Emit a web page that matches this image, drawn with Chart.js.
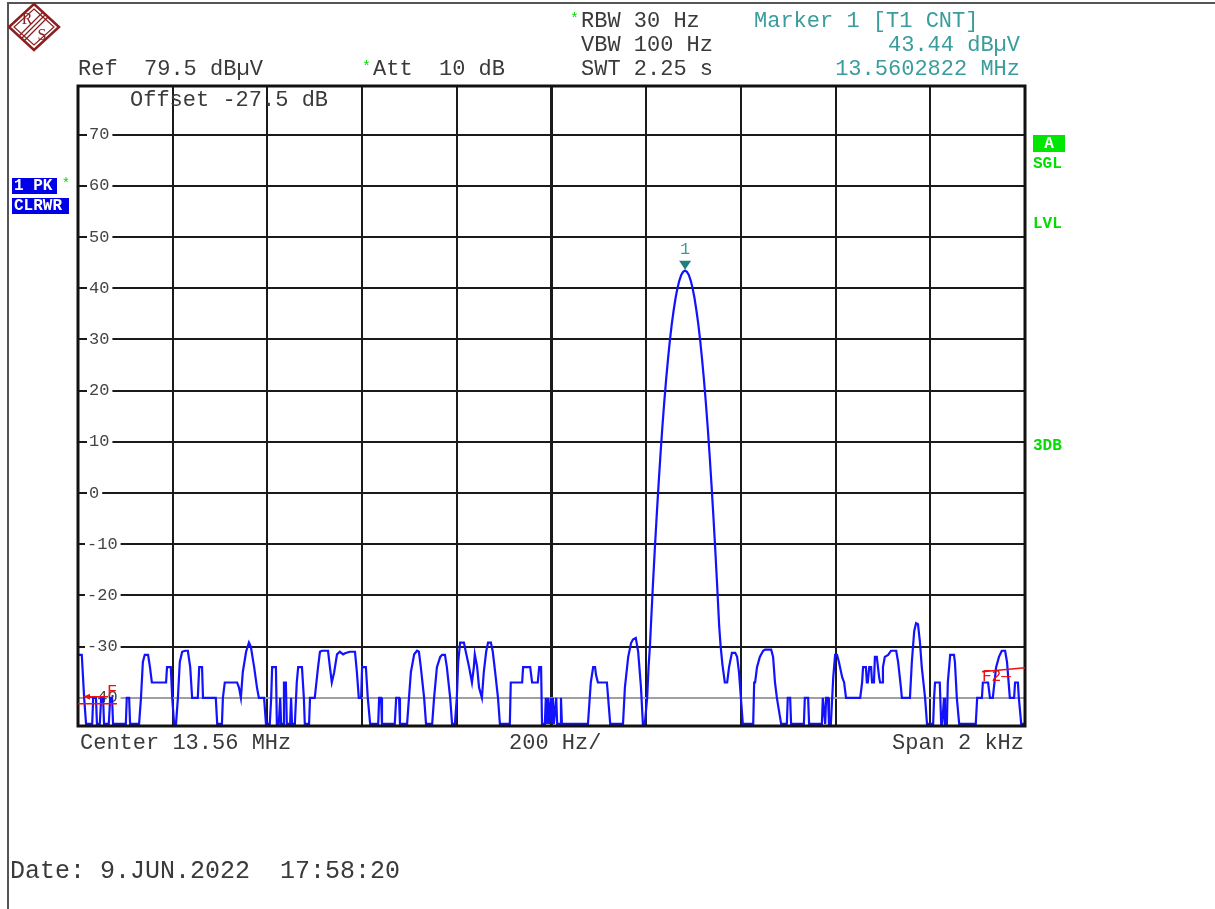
<!DOCTYPE html>
<html lang="en">
<head>
<meta charset="UTF-8">
<title>Spectrum 13.56 MHz</title>
<style>
  body { margin: 0; background: #fff; }
  #wrap { width: 1215px; height: 909px; }
</style>
<script src="https://cdn.jsdelivr.net/npm/chart.js"></script>
</head>
<body>
<div id="wrap"><canvas id="spec" width="1215" height="909"></canvas></div>
<script>
// trace: offset from 13.56 MHz centre (Hz) / level (dBuV)
const freqHz = [
  -1000, -992, -987, -983, -970, -968, -962, -960, -954, -951, -947, -945, -935, -932, -928, -926,
  -899, -897, -892, -890, -871, -867, -863, -859, -852, -848, -844, -814, -812, -804, -801, -797,
  -793, -789, -785, -780, -774, -768, -763, -759, -747, -744, -738, -736, -709, -706, -696, -694,
  -690, -664, -660, -656, -652, -645, -639, -635, -628, -622, -618, -607, -603, -595, -592, -590,
  -582, -580, -576, -573, -571, -567, -565, -561, -559, -552, -550, -548, -542, -538, -535, -527,
  -523, -521, -512, -510, -500, -493, -489, -485, -472, -468, -464, -459, -453, -447, -440, -436,
  -426, -415, -411, -407, -402, -400, -392, -388, -383, -366, -364, -360, -358, -331, -328, -322,
  -320, -305, -301, -297, -290, -284, -280, -276, -269, -265, -252, -248, -242, -235, -231, -225,
  -221, -214, -210, -204, -200, -197, -193, -185, -181, -174, -168, -164, -162, -157, -153, -147,
  -143, -138, -134, -128, -124, -119, -113, -109, -88, -86, -62, -60, -45, -41, -29, -26,
  -22, -20, -14, -12, -10, -7, -5, -1, 1, 3, 5, 10, 12, 18, 20, 22,
  77, 83, 88, 92, 94, 98, 117, 124, 151, 155, 162, 168, 172, 178, 183, 189,
  193, 197, 202, 205, 208, 210, 214, 218, 222, 226, 230, 234, 238, 242, 246, 250,
  254, 258, 262, 266, 270, 274, 278, 282, 286, 290, 294, 298, 302, 306, 310, 314,
  318, 322, 326, 330, 334, 338, 342, 346, 350, 354, 357, 361, 366, 371, 375, 381,
  388, 392, 396, 400, 404, 426, 428, 430, 434, 440, 447, 451, 464, 468, 472, 476,
  485, 497, 499, 504, 506, 533, 535, 542, 544, 571, 573, 578, 580, 584, 586, 590,
  595, 599, 603, 607, 614, 618, 622, 652, 656, 658, 664, 666, 668, 671, 675, 677,
  681, 683, 687, 692, 694, 698, 700, 704, 711, 717, 728, 732, 738, 740, 757, 761,
  766, 770, 774, 778, 782, 789, 793, 806, 808, 810, 820, 823, 825, 829, 831, 835,
  837, 842, 850, 852, 856, 861, 896, 899, 909, 911, 922, 926, 932, 939, 945, 951,
  958, 962, 968, 977, 979, 985, 987, 992, 1000
];
const levelDb = [
  -31.6, -31.6, -40, -45.1, -45.1, -40, -40, -45.1, -45.1, -40, -40, -45.1, -45.1, -40, -40, -45.1,
  -45.1, -40, -40, -45.1, -45.1, -40, -33, -31.6, -31.6, -34, -37, -37, -34, -34, -40, -45.1,
  -45.1, -40, -33, -31, -30.8, -30.8, -34, -40, -40, -34, -34, -40, -40, -45.1, -45.1, -40,
  -37, -37, -38, -40, -35, -31, -29.2, -30, -34, -38, -40, -40, -45.1, -45.1, -40, -34,
  -34, -45.1, -45.1, -40, -45.1, -45.1, -37, -37, -45.1, -45.1, -40, -45.1, -45.1, -37, -34, -34,
  -40, -45.1, -45.1, -40, -40, -34, -31, -30.8, -30.8, -34, -37, -35, -31.5, -31, -31.5, -31.3,
  -31, -31, -35, -40, -40, -34, -34, -40, -45.1, -45.1, -40, -40, -45.1, -45.1, -40, -40,
  -45.1, -45.1, -40, -35, -31.5, -30.8, -31, -34, -40, -45.1, -45.1, -40, -34, -32, -31.6, -31.6,
  -34, -40, -45.1, -45.1, -40, -33, -29.2, -29.2, -31, -34, -37, -34, -31.5, -34, -38, -40,
  -35, -31, -29.2, -29.2, -31, -35, -40, -45.1, -45.1, -37, -37, -34, -34, -37, -37, -34,
  -34, -45.1, -45.1, -40, -45.1, -40, -45.1, -40, -45.1, -40, -45.1, -40, -45.1, -45.1, -40, -45.1,
  -45.1, -37, -34, -34, -35.5, -37, -37, -45.1, -45.1, -38, -32, -29.3, -28.6, -28.3, -31, -38,
  -45.1, -45.1, -40, -34, -29.7, -25.8, -18.3, -11.3, -4.7, 1.5, 7.3, 12.7, 17.6, 22.1, 26.1, 29.8,
  33.0, 35.7, 38.1, 40.0, 41.5, 42.6, 43.2, 43.44, 43.2, 42.6, 41.5, 40.0, 38.1, 35.7, 33.0, 29.8,
  26.1, 22.1, 17.6, 12.7, 7.3, 1.5, -4.7, -11.3, -18.3, -25.8, -29.7, -33.5, -37, -37, -34, -31.2,
  -31.2, -32, -35, -40, -45.1, -45.1, -37, -37, -34, -32, -30.8, -30.6, -30.6, -32, -37, -40,
  -45.1, -45.1, -40, -40, -45.1, -45.1, -40, -40, -45.1, -45.1, -40, -45.1, -40, -40, -45.1, -45.1,
  -36, -31.6, -31.6, -33, -36, -37, -40, -40, -37, -34, -34, -37, -37, -34, -34, -37,
  -37, -32, -32, -36, -37, -37, -34, -32, -31.6, -30.8, -30.8, -33, -38, -40, -40, -33,
  -27, -25.4, -25.6, -29, -34, -40, -45.1, -45.1, -40, -37, -37, -45.1, -45.1, -40, -45.1, -45.1,
  -37, -31.6, -31.6, -33, -40, -45.1, -45.1, -40, -40, -37, -37, -40, -40, -34, -32, -30.8,
  -30.8, -33, -40, -40, -37, -37, -40, -45.1, -45.1
];
const yTicks = [70, 60, 50, 40, 30, 20, 10, 0, -10, -20, -30, -40];
const xTicks = [-1000, -800, -600, -400, -200, 0, 200, 400, 600, 800, 1000];
const markerHz = 282.2;
const markerDb = 43.44;

const MONO = '"Liberation Mono", "Courier New", monospace';
const INK = '#3a3a3a';
const TEAL = '#3a9c9c';
const GREEN = '#00dd00';

function txt(ctx, s, x, y, color, font, align) {
    ctx.fillStyle = color;
    ctx.font = font;
    ctx.textAlign = align || 'left';
    ctx.textBaseline = 'middle';
    ctx.fillText(s, x, y);
}

function drawLogo(ctx) {
    ctx.save();
    ctx.strokeStyle = '#8b1f1f';
    ctx.lineWidth = 2.5;
    ctx.beginPath();
    ctx.moveTo(34, 4); ctx.lineTo(59, 27); ctx.lineTo(34, 50); ctx.lineTo(9, 27); ctx.closePath();
    ctx.stroke();
    ctx.lineWidth = 1.2;
    ctx.beginPath();
    ctx.moveTo(34, 9); ctx.lineTo(54, 27); ctx.lineTo(34, 45); ctx.lineTo(14, 27); ctx.closePath();
    ctx.stroke();
    // stripes between R and S
    ctx.lineWidth = 1.3;
    for (let k = -2.5; k <= 2.5; k += 2.5) {
        ctx.beginPath();
        ctx.moveTo(21 + k, 39 + k); ctx.lineTo(46 + k, 14 + k);
        ctx.stroke();
    }
    txt(ctx, 'R', 27, 20, '#8b1f1f', '16px "Liberation Serif", serif', 'center');
    txt(ctx, 'S', 42, 36, '#8b1f1f', '16px "Liberation Serif", serif', 'center');
    ctx.restore();
}

const decor = {
    id: 'decor',
    beforeDraw(chart) {
        const ctx = chart.ctx;
        ctx.save();
        ctx.fillStyle = '#fff';
        ctx.fillRect(0, 0, chart.width, chart.height);
        // outer frame (left and top)
        ctx.strokeStyle = '#555';
        ctx.lineWidth = 2;
        ctx.beginPath();
        ctx.moveTo(8, 909); ctx.lineTo(8, 3); ctx.lineTo(1215, 3);
        ctx.stroke();
        drawLogo(ctx);

        const f22 = '22px ' + MONO;
        txt(ctx, 'Ref  79.5 dB\u00b5V', 78, 69, INK, f22);
        txt(ctx, '*', 362, 67, GREEN, '15px ' + MONO);
        txt(ctx, 'Att  10 dB', 373, 69, INK, f22);
        txt(ctx, '*', 570, 19, GREEN, '15px ' + MONO);
        txt(ctx, 'RBW 30 Hz', 581, 21, INK, f22);
        txt(ctx, 'VBW 100 Hz', 581, 45, INK, f22);
        txt(ctx, 'SWT 2.25 s', 581, 69, INK, f22);
        txt(ctx, 'Marker 1 [T1 CNT]', 754, 21, TEAL, f22);
        txt(ctx, '43.44 dB\u00b5V', 1020, 45, TEAL, f22, 'right');
        txt(ctx, '13.5602822 MHz', 1020, 69, TEAL, f22, 'right');

        txt(ctx, 'Center 13.56 MHz', 80, 743, INK, f22);
        txt(ctx, '200 Hz/', 509, 743, INK, f22);
        txt(ctx, 'Span 2 kHz', 1024, 743, INK, f22, 'right');
        txt(ctx, 'Date: 9.JUN.2022  17:58:20', 10, 871, INK, '25px ' + MONO);

        // trace info boxes on the left
        const fb = 'bold 16px ' + MONO;
        ctx.fillStyle = '#0000e6';
        ctx.fillRect(12, 178, 45, 16);
        ctx.fillRect(12, 198, 57, 16);
        txt(ctx, '1 PK', 14, 186, '#fff', fb);
        txt(ctx, 'CLRWR', 14, 206, '#fff', fb);
        txt(ctx, '*', 66, 184, GREEN, '14px ' + MONO, 'center');

        // status labels on the right
        ctx.fillStyle = '#00e600';
        ctx.fillRect(1033, 135, 32, 17);
        txt(ctx, 'A', 1049, 144, '#fff', fb, 'center');
        txt(ctx, 'SGL', 1033, 164, GREEN, fb);
        txt(ctx, 'LVL', 1033, 224, GREEN, fb);
        txt(ctx, '3DB', 1033, 446, GREEN, fb);
        ctx.restore();
    },
    beforeDatasetsDraw(chart) {
        const ctx = chart.ctx;
        const y = chart.scales.y;
        const a = chart.chartArea;
        ctx.save();
        const f = '17px ' + MONO;
        ctx.font = f;
        yTicks.forEach(v => {
            const py = y.getPixelForValue(v);
            const s = String(v);
            const x0 = v < 0 ? a.left + 9 : a.left + 11;
            const w = ctx.measureText(s).width;
            ctx.fillStyle = '#fff';
            ctx.fillRect(x0 - 2, py - 3, w + 5, 6);
            txt(ctx, s, x0, py, '#444', f);
        });
        txt(ctx, 'Offset -27.5 dB', 130, 100, INK, '22px ' + MONO);
        ctx.restore();
    },
    afterDatasetsDraw(chart) {
        const ctx = chart.ctx;
        const a = chart.chartArea;
        const x = chart.scales.x;
        const y = chart.scales.y;
        ctx.save();
        // plot frame
        ctx.strokeStyle = '#111';
        ctx.lineWidth = 3;
        ctx.strokeRect(a.left, a.top, a.right - a.left, a.bottom - a.top);

        // marker 1
        const mx = x.getPixelForValue(markerHz);
        const my = y.getPixelForValue(markerDb);
        ctx.fillStyle = '#1f7f7f';
        ctx.beginPath();
        ctx.moveTo(mx - 6, my - 10); ctx.lineTo(mx + 6, my - 10); ctx.lineTo(mx, my - 1);
        ctx.closePath();
        ctx.fill();
        txt(ctx, '1', mx, my - 21, TEAL, '17px ' + MONO, 'center');

        // frequency line markers F1 / F2
        const py40 = y.getPixelForValue(-40);
        ctx.strokeStyle = '#ee1111';
        ctx.fillStyle = '#ee1111';
        ctx.lineWidth = 1.5;
        ctx.beginPath();
        ctx.moveTo(a.left + 7, py40 - 1); ctx.lineTo(a.left + 30, py40 - 1);
        ctx.moveTo(a.left, py40 + 6); ctx.lineTo(a.left + 39, py40 + 6);
        ctx.stroke();
        ctx.beginPath();
        ctx.moveTo(a.left + 5, py40 - 1); ctx.lineTo(a.left + 12, py40 - 4); ctx.lineTo(a.left + 12, py40 + 2);
        ctx.closePath();
        ctx.fill();
        txt(ctx, 'F', a.left + 29, py40 - 6, '#ee1111', '17px ' + MONO);

        ctx.beginPath();
        ctx.moveTo(a.right - 43, py40 - 26); ctx.lineTo(a.right, py40 - 30);
        ctx.stroke();
        txt(ctx, 'F2\u2014', a.right - 43, py40 - 21, '#ee1111', '16px ' + MONO);
        ctx.restore();
    }
};

const points = freqHz.map((f, i) => ({ x: f, y: levelDb[i] }));

const chart = new Chart(document.getElementById('spec'), {
    type: 'line',
    data: {
        datasets: [{
            data: points,
            borderColor: '#1212ff',
            borderWidth: 2.2,
            pointRadius: 0,
            tension: 0
        }]
    },
    options: {
        responsive: false,
        animation: false,
        devicePixelRatio: 1,
        layout: { padding: { left: 78, right: 190, top: 86, bottom: 183 } },
        plugins: { legend: { display: false }, tooltip: { enabled: false } },
        scales: {
            x: {
                type: 'linear',
                min: -1000,
                max: 1000,
                afterBuildTicks: s => { s.ticks = xTicks.map(v => ({ value: v })); },
                ticks: { display: false },
                border: { display: false },
                grid: {
                    drawTicks: false,
                    color: '#1a1a1a',
                    lineWidth: c => (c.tick && c.tick.value === 0) ? 3 : 2
                }
            },
            y: {
                type: 'linear',
                min: -45.5,
                max: 79.5,
                afterBuildTicks: s => { s.ticks = yTicks.map(v => ({ value: v })); },
                ticks: { display: false },
                border: { display: false },
                grid: {
                    drawTicks: false,
                    color: c => (c.tick && c.tick.value === -40) ? '#a0a0a0' : '#1a1a1a',
                    lineWidth: 2
                }
            }
        }
    },
    plugins: [decor]
});
</script>
</body>
</html>
